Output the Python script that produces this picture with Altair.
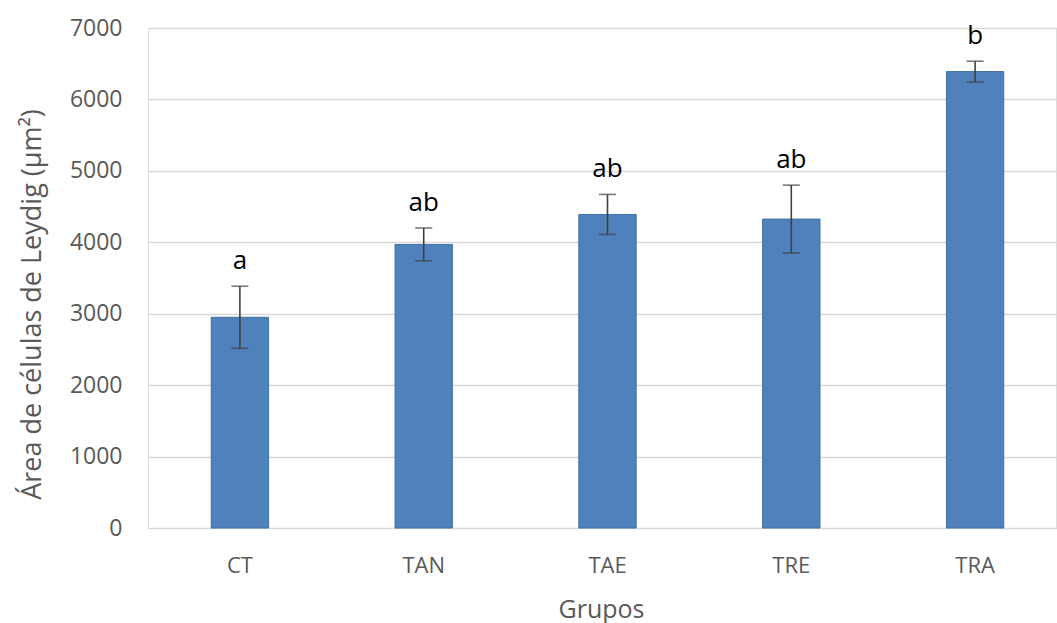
import altair as alt
import pandas as pd

# Grupos experimentais, área média das células de Leydig e erro padrão
grupos = ["CT", "TAN", "TAE", "TRE", "TRA"]
media = [2950, 3970, 4390, 4325, 6390]
erro = [435, 230, 280, 475, 145]
letras = ["a", "ab", "ab", "ab", "b"]
marcas_y = [0, 1000, 2000, 3000, 4000, 5000, 6000, 7000]

df = pd.DataFrame({
    "grupo": grupos,
    "media": media,
    "erro": erro,
    "letra": letras,
})
df["sup"] = df["media"] + df["erro"]
df["inf"] = df["media"] - df["erro"]

FONTE = "Open Sans"
CINZA = "#595959"

escala_x = alt.Scale(range=[0, 919], paddingInner=0.688, paddingOuter=0.344)
escala_y = alt.Scale(domain=[0, 7000], nice=False)

eixo_x = alt.Axis(
    title="Grupos",
    labelAngle=0,
    labelFont=FONTE,
    labelFontSize=22,
    labelColor=CINZA,
    labelBaseline="alphabetic",
    labelPadding=44,
    ticks=False,
    tickSize=0,
    domain=False,
    grid=False,
    titleFont=FONTE,
    titleFontSize=25,
    titleFontWeight="normal",
    titleColor=CINZA,
    titleBaseline="alphabetic",
    titleX=453,
    titleY=89,
)

eixo_y = alt.Axis(
    title="Área de células de Leydig (µm²)",
    values=marcas_y,
    format="d",
    labelFont=FONTE,
    labelFontSize=23,
    labelColor=CINZA,
    labelPadding=26,
    ticks=False,
    tickSize=0,
    domain=False,
    grid=True,
    gridColor="#D9D9D9",
    gridWidth=1.3,
    titleFont=FONTE,
    titleFontSize=27,
    titleFontWeight="normal",
    titleColor=CINZA,
    titleAngle=270,
    titleAlign="center",
    titleBaseline="alphabetic",
    titleX=-108,
    titleY=276,
)

x_enc = alt.X("grupo:N", sort=grupos, scale=escala_x, axis=eixo_x)

barras = alt.Chart(df).mark_bar(
    color="#4F81BD", stroke="#41719C", strokeWidth=1
).encode(
    x=x_enc,
    y=alt.Y("media:Q", scale=escala_y, axis=eixo_y),
)

haste = alt.Chart(df).mark_rule(color="#404040", strokeWidth=1.6).encode(
    x=x_enc,
    y=alt.Y("inf:Q", scale=escala_y, axis=eixo_y),
    y2="sup:Q",
)

cap_sup = alt.Chart(df).mark_tick(
    color="#404040", thickness=1.6, size=17, orient="horizontal"
).encode(
    x=x_enc,
    y=alt.Y("sup:Q", scale=escala_y, axis=eixo_y),
)

cap_inf = alt.Chart(df).mark_tick(
    color="#404040", thickness=1.6, size=17, orient="horizontal"
).encode(
    x=x_enc,
    y=alt.Y("inf:Q", scale=escala_y, axis=eixo_y),
)

letras_txt = alt.Chart(df).mark_text(
    font=FONTE, fontSize=26, color="#000000", baseline="alphabetic", dy=-17
).encode(
    x=x_enc,
    y=alt.Y("sup:Q", scale=escala_y, axis=eixo_y),
    text="letra:N",
)

chart = (
    alt.layer(barras, haste, cap_sup, cap_inf, letras_txt)
    .properties(
        width=908,
        height=500,
        autosize=alt.AutoSizeParams(type="none"),
        padding={"left": 148, "top": 28, "right": 1, "bottom": 95},
    )
    .configure_view(stroke="#FFFFFF", strokeWidth=1)
    .configure(background="#FFFFFF")
)

chart.save("out.html", embed_options={"renderer": "svg", "actions": False})
